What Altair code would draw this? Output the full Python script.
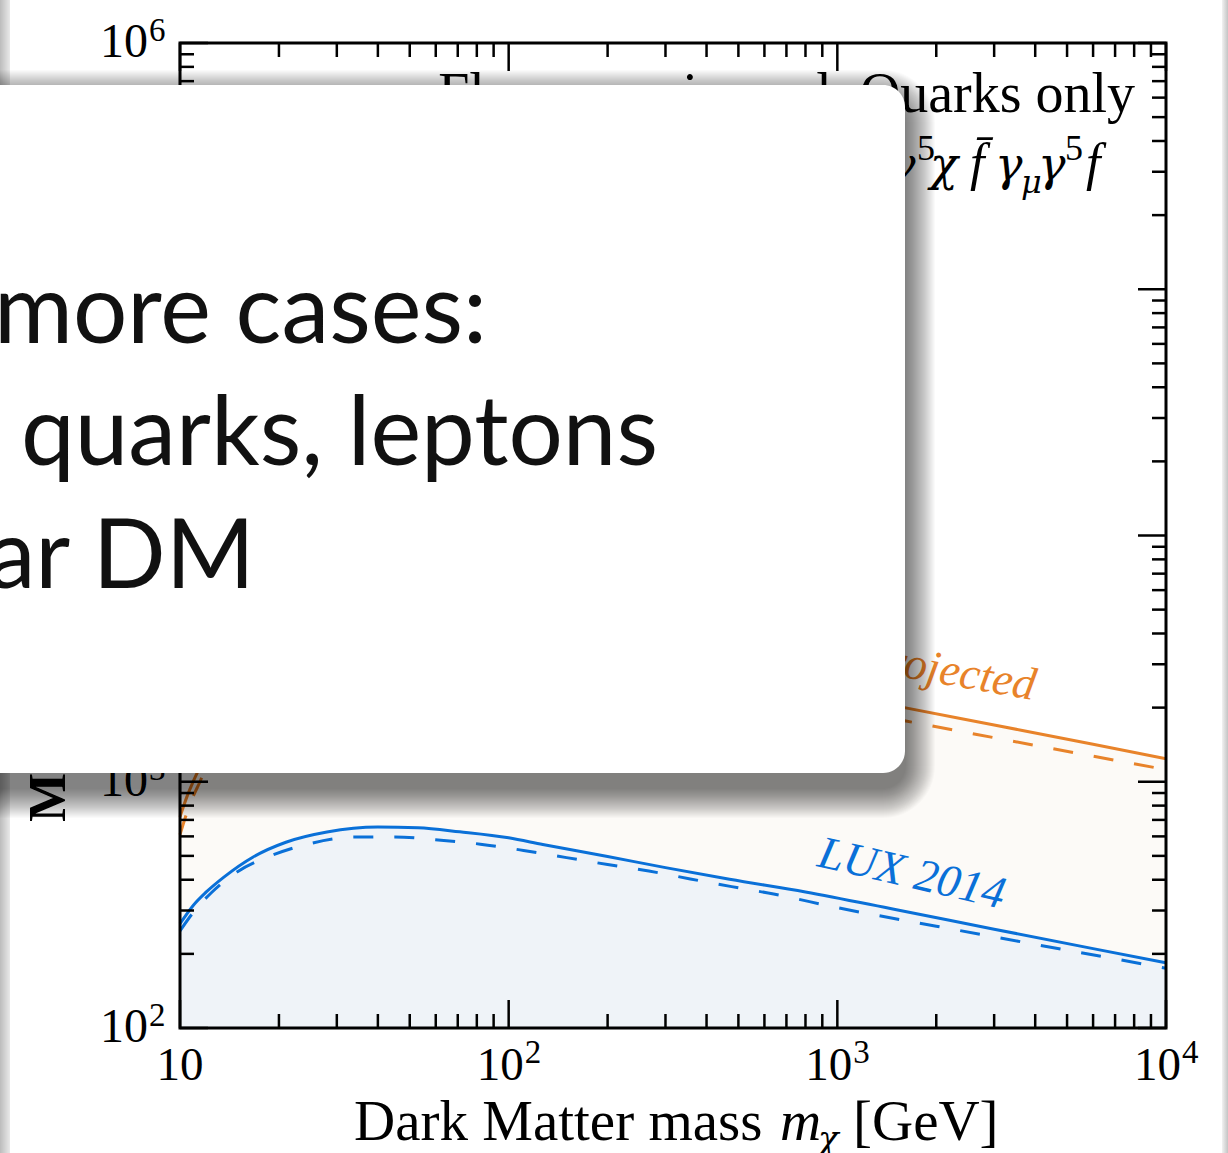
import altair as alt
import pandas as pd

# ---------------------------------------------------------------------------
# Limits on the mediator scale vs dark matter mass (axial-vector, quarks only)
# ---------------------------------------------------------------------------
lux_mass = [10, 11, 12, 13.6, 16.7, 21, 28, 40, 53, 71, 100, 127, 200, 300,
            470, 800, 1500, 3000, 6000, 10000]
lux_solid = [265, 316, 356, 410, 495, 568, 625, 655, 650, 626, 592, 556, 497,
             448, 402, 357, 303, 252, 210, 184]

lux_dash_mass = [10, 11, 12.5, 15, 19, 25, 34, 45, 61, 82, 111, 150, 200, 267,
                 357, 477, 640, 1000, 2000, 5000, 10000]
lux_dashed = [248, 296, 356, 432, 502, 562, 596, 597, 580, 558, 526, 492, 461,
              434, 403, 375, 350, 308, 259, 207, 175]

lz_mass = [10, 10.5, 11, 11.5, 12, 13, 14.5, 16.5, 19, 23, 28, 35, 45, 60, 80,
           100, 150, 200, 300, 500, 800, 1000, 1600, 3000, 6000, 10000]
lz_solid = [720, 870, 1010, 1150, 1320, 1650, 2050, 2550, 3050, 3550, 3950,
            4250, 4300, 4150, 3950, 3800, 3500, 3300, 2980, 2620, 2370, 2270,
            2000, 1700, 1420, 1240]
lz_dashed = [610, 750, 880, 1000, 1150, 1440, 1790, 2230, 2670, 3110, 3460,
             3720, 3770, 3640, 3460, 3330, 3070, 2900, 2620, 2300, 2090, 2000,
             1770, 1510, 1270, 1120]

# axis ticks
x_major = [10, 100, 1000, 10000]
x_major_exp = ["", "2", "3", "4"]
x_minor = [k * 10 ** d for d in (1, 2, 3) for k in range(2, 10)]
y_major = [1e2, 1e3, 1e4, 1e5, 1e6]
y_major_exp = ["2", "3", "4", "5", "6"]
y_minor = [k * 10 ** d for d in (2, 3, 4, 5) for k in range(2, 10)]

# slide overlay text
box_lines = ["Extending to more cases:", "Couplings to quarks, leptons", "Scalar DM"]

BLUE = "#0a70d8"
ORANGE = "#e8832a"
SERIF = "Liberation Serif"
GREEK = "DejaVu Serif"
W, H = 986, 985          # plot area
LEFT, TOP = 180, 43      # plot origin on the page

xs = alt.Scale(type="log", domain=[10, 10000])
ys = alt.Scale(type="log", domain=[100, 1e6])


def X(field):
    return alt.X(f"{field}:Q", scale=xs, axis=None)


def Y(field):
    return alt.Y(f"{field}:Q", scale=ys, axis=None)


one = pd.DataFrame({"k": [0]})


def page_text(text, px, py, size, align="left", italic=False, bold=False,
              color="black", angle=0, font=SERIF):
    kw = dict(text=text, font=font, fontSize=size, align=align,
              baseline="alphabetic", color=color)
    if italic:
        kw["fontStyle"] = "italic"
    if bold:
        kw["fontWeight"] = "bold"
    if angle:
        kw["angle"] = angle
    return alt.Chart(one).mark_text(**kw).encode(
        x=alt.value(px - LEFT), y=alt.value(py - TOP))


lux_df = pd.DataFrame({"m": lux_mass, "v": lux_solid})
lux_d_df = pd.DataFrame({"m": lux_dash_mass, "v": lux_dashed})
lz_df = pd.DataFrame({"m": lz_mass, "v": lz_solid})
lz_d_df = pd.DataFrame({"m": lz_mass, "v": lz_dashed})

layers = []

# excluded regions
layers.append(alt.Chart(lz_df).mark_area(color="#fcfaf7", interpolate="monotone")
              .encode(x=X("m"), y=Y("v"), y2=alt.datum(100)))
layers.append(alt.Chart(lux_df).mark_area(color="#eff3f8", interpolate="monotone")
              .encode(x=X("m"), y=Y("v"), y2=alt.datum(100)))

# limit curves
for df, col, dash in [(lz_df, ORANGE, None), (lz_d_df, ORANGE, [20, 21]),
                      (lux_df, BLUE, None), (lux_d_df, BLUE, [20, 21])]:
    kw = dict(color=col, strokeWidth=3, interpolate="monotone")
    if dash:
        kw["strokeDash"] = dash
    layers.append(alt.Chart(df).mark_line(**kw).encode(x=X("m"), y=Y("v")))

# frame
layers.append(alt.Chart(one).mark_rect(filled=False, stroke="black", strokeWidth=3)
              .encode(x=alt.value(0), x2=alt.value(W), y=alt.value(0), y2=alt.value(H)))

# inward ticks on all four sides
for vals, length in [(x_major, 28), (x_minor, 14)]:
    base = alt.Chart(pd.DataFrame({"m": vals})).mark_rule(color="black", strokeWidth=2.5)
    layers.append(base.encode(x=X("m"), y=alt.value(H), y2=alt.value(H - length)))
    layers.append(base.encode(x=X("m"), y=alt.value(0), y2=alt.value(length)))
for vals, length in [(y_major, 28), (y_minor, 14)]:
    base = alt.Chart(pd.DataFrame({"v": vals})).mark_rule(color="black", strokeWidth=2.5)
    layers.append(base.encode(y=Y("v"), x=alt.value(0), x2=alt.value(length)))
    layers.append(base.encode(y=Y("v"), x=alt.value(W), x2=alt.value(W - length)))

# tick labels
xl = alt.Chart(pd.DataFrame({"m": x_major, "b": ["10"] * 4, "e": x_major_exp}))
layers.append(xl.transform_filter("datum.e == ''")
              .mark_text(font=SERIF, fontSize=47, align="center", baseline="alphabetic", color="black")
              .encode(x=X("m"), y=alt.value(1080 - TOP), text="b:N"))
layers.append(xl.transform_filter("datum.e != ''")
              .mark_text(font=SERIF, fontSize=47, align="right", baseline="alphabetic", dx=15, color="black")
              .encode(x=X("m"), y=alt.value(1080 - TOP), text="b:N"))
layers.append(xl.transform_filter("datum.e != ''")
              .mark_text(font=SERIF, fontSize=33, align="left", baseline="alphabetic", dx=16, color="black")
              .encode(x=X("m"), y=alt.value(1063 - TOP), text="e:N"))

yl = alt.Chart(pd.DataFrame({"v": y_major, "b": ["10"] * 5, "e": y_major_exp}))
layers.append(yl.mark_text(font=SERIF, fontSize=48, align="right", baseline="alphabetic", dy=14, color="black")
              .encode(y=Y("v"), x=alt.value(148 - LEFT), text="b:N"))
layers.append(yl.mark_text(font=SERIF, fontSize=33, align="left", baseline="alphabetic", dy=-2, color="black")
              .encode(y=Y("v"), x=alt.value(149 - LEFT), text="e:N"))

# axis titles
layers.append(page_text("Dark Matter mass", 354, 1140, 57))
layers.append(page_text("m", 780, 1140, 57, italic=True))
layers.append(page_text("χ", 818, 1150, 34, italic=True, font=GREEK))
layers.append(page_text("[GeV]", 853, 1140, 57))
layers.append(page_text("Mediator mass [GeV]", 65, 822, 52, bold=True, angle=270))

# panel title and operator
layers.append(page_text("Flavour universal, Quarks only", 1135, 112, 56, align="right"))
op_pieces = [("χ̄", 800, 180, 46, True, GREEK), ("γ", 830, 180, 46, True, GREEK),
             ("μ", 858, 160, 32, True, GREEK), ("γ", 888, 180, 46, True, GREEK),
             ("5", 917, 160, 36, False, SERIF), ("χ", 930, 180, 46, True, GREEK),
             ("f̄", 970, 180, 52, True, SERIF), ("γ", 995, 180, 46, True, GREEK),
             ("μ", 1021, 193, 32, True, GREEK), ("γ", 1038, 180, 46, True, GREEK),
             ("5", 1065, 160, 36, False, SERIF), ("f", 1086, 180, 52, True, SERIF)]
for t, px, py, sz, it, fnt in op_pieces:
    layers.append(page_text(t, px, py, sz, italic=it, font=fnt))

# curve labels
layers.append(page_text("LZ projected", 1033, 700, 46, align="right", italic=True,
                        color=ORANGE, angle=10))
layers.append(page_text("LUX 2014", 816, 866, 46, italic=True, color=BLUE, angle=13))

# slide edges
edge_l = alt.LinearGradient(gradient="linear", x1=0, x2=1, y1=0, y2=0,
                            stops=[alt.GradientStop(color="#bcbcbc", offset=0),
                                   alt.GradientStop(color="#e9e9e9", offset=1)])
edge_r = alt.LinearGradient(gradient="linear", x1=0, x2=1, y1=0, y2=0,
                            stops=[alt.GradientStop(color="#f2f2f2", offset=0),
                                   alt.GradientStop(color="#c4c4c4", offset=1)])
layers.append(alt.Chart(one).mark_rect(color=edge_l).encode(
    x=alt.value(0 - LEFT), x2=alt.value(10 - LEFT), y=alt.value(-TOP), y2=alt.value(1153 - TOP)))
layers.append(alt.Chart(one).mark_rect(color=edge_r).encode(
    x=alt.value(1222 - LEFT), x2=alt.value(1228 - LEFT), y=alt.value(-TOP), y2=alt.value(1153 - TOP)))

# call-out box with soft drop shadow (many faint stacked rounded rects)
bx0, bx1, by0, by1 = -40, 905, 85, 773
for e in range(1, 31):
    layers.append(alt.Chart(one).mark_rect(color="black", opacity=0.02, cornerRadius=22 + e)
                  .encode(x=alt.value(bx0 - LEFT - e), x2=alt.value(bx1 - LEFT + e),
                          y=alt.value(by0 - TOP + 15 - e), y2=alt.value(by1 - TOP + 15 + e)))
layers.append(alt.Chart(one).mark_rect(color="white", cornerRadius=22).encode(
    x=alt.value(bx0 - LEFT), x2=alt.value(bx1 - LEFT), y=alt.value(by0 - TOP), y2=alt.value(by1 - TOP)))
for t, px, py in zip(box_lines, [487, 658, 255], [343, 465, 588]):
    layers.append(page_text(t, px, py, 96, align="right", color="#111111", font="Lato"))

chart = alt.layer(*layers).properties(
    width=W, height=H,
    autosize=alt.AutoSizeParams(type="none"),
    padding={"left": LEFT, "top": TOP, "right": 1228 - LEFT - W, "bottom": 1153 - TOP - H},
    background="white",
).configure_view(strokeWidth=0)

chart.save("out.html", embed_options={"renderer": "svg", "actions": False})
